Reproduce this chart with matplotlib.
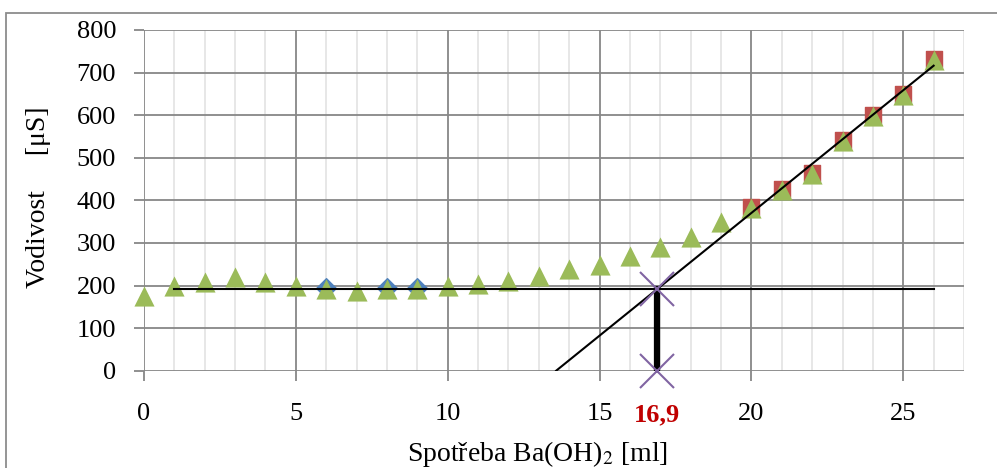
import matplotlib.pyplot as plt
from matplotlib.patches import Rectangle

plt.rcParams['font.family'] = ['Liberation Serif', 'DejaVu Serif']
plt.rcParams['mathtext.fontset'] = 'stix'

# titrace - vodivost pri davkovani Ba(OH)2
objem = list(range(27))
vodivost = [175, 200, 209, 220, 209, 198, 192, 188, 191, 191,
            199, 204, 211, 223, 238, 249, 270, 291, 314, 350,
            382, 424, 462, 539, 599, 648, 730]

# body pouzite pro primky
objem_modre = [6, 8, 9]
vodivost_modre = [195, 194, 194]
objem_cervene = [20, 21, 22, 23, 24, 25, 26]
vodivost_cervene = [384, 426, 464, 541, 601, 650, 732]

# vodorovna primka a strma primka
vodorovna_x = [1, 26]
vodorovna_y = [192, 192]
strma_x = [13.57, 26]
strma_y = [0, 716]

bod_ekv = 16.9
vodivost_ekv = 192

fig = plt.figure(figsize=(9.97, 4.68), dpi=100)
ax = fig.add_axes([0.1444, 0.2078, 0.8225, 0.7283])

# ramecek grafu
fig.patches.append(Rectangle((6 / 997, -0.1), 1.2, (468 - 13) / 468 + 0.1,
                             transform=fig.transFigure, fill=False,
                             edgecolor='#8c8c8c', linewidth=1.3))

ax.set_xlim(0, 27)
ax.set_ylim(0, 800)
ax.set_xticks(range(0, 26, 5))
ax.set_xticks(range(0, 28), minor=True)
ax.set_yticks(range(0, 801, 100))

ax.grid(which='minor', axis='x', color='#e3e3e3', linewidth=1.2)
ax.grid(which='major', color='#878787', linewidth=1.3)
ax.set_axisbelow(True)
for s in ax.spines.values():
    s.set_visible(False)

ax.tick_params(axis='both', which='major', labelsize=19, color='#878787',
               length=7, width=1.3, direction='out')
ax.tick_params(axis='x', which='major', pad=16)
ax.tick_params(axis='y', which='major', pad=13)
ax.tick_params(which='minor', length=0)

ax.scatter(objem_modre, vodivost_modre, marker='D', s=100, color='#4f81bd', zorder=3)
ax.scatter(objem_cervene, vodivost_cervene, marker='s', s=120, color='#c0504d', zorder=3)
ax.scatter(objem, vodivost, marker='^', s=210, color='#9bbb59', linewidths=0,
           zorder=4, clip_on=False)

ax.plot(vodorovna_x, vodorovna_y, color='black', linewidth=1.5, zorder=5)
ax.plot(strma_x, strma_y, color='black', linewidth=1.5, zorder=5)
ax.plot([bod_ekv, bod_ekv], [0, vodivost_ekv], color='black', linewidth=4.5, zorder=5)
ax.plot([bod_ekv, bod_ekv], [0, vodivost_ekv], marker='x', markersize=25,
        markeredgewidth=1.5, color='#8064a2', linestyle='none', zorder=6, clip_on=False)

ax.text(bod_ekv, -103, '16,9', color='#c00000', fontsize=19,
        fontweight='bold', ha='center', va='center', clip_on=False)

ax.set_xlabel('Spotřeba Ba(OH)$_2$ [ml]', fontsize=20)
ax.xaxis.set_label_coords((537 - 144) / 820, -(439 - 370.7) / 341)
ax.set_ylabel('Vodivost     [μS]', fontsize=20)
ax.yaxis.set_label_coords(-(144 - 51) / 820, 0.51)

fig.savefig('out.png', dpi=100)
